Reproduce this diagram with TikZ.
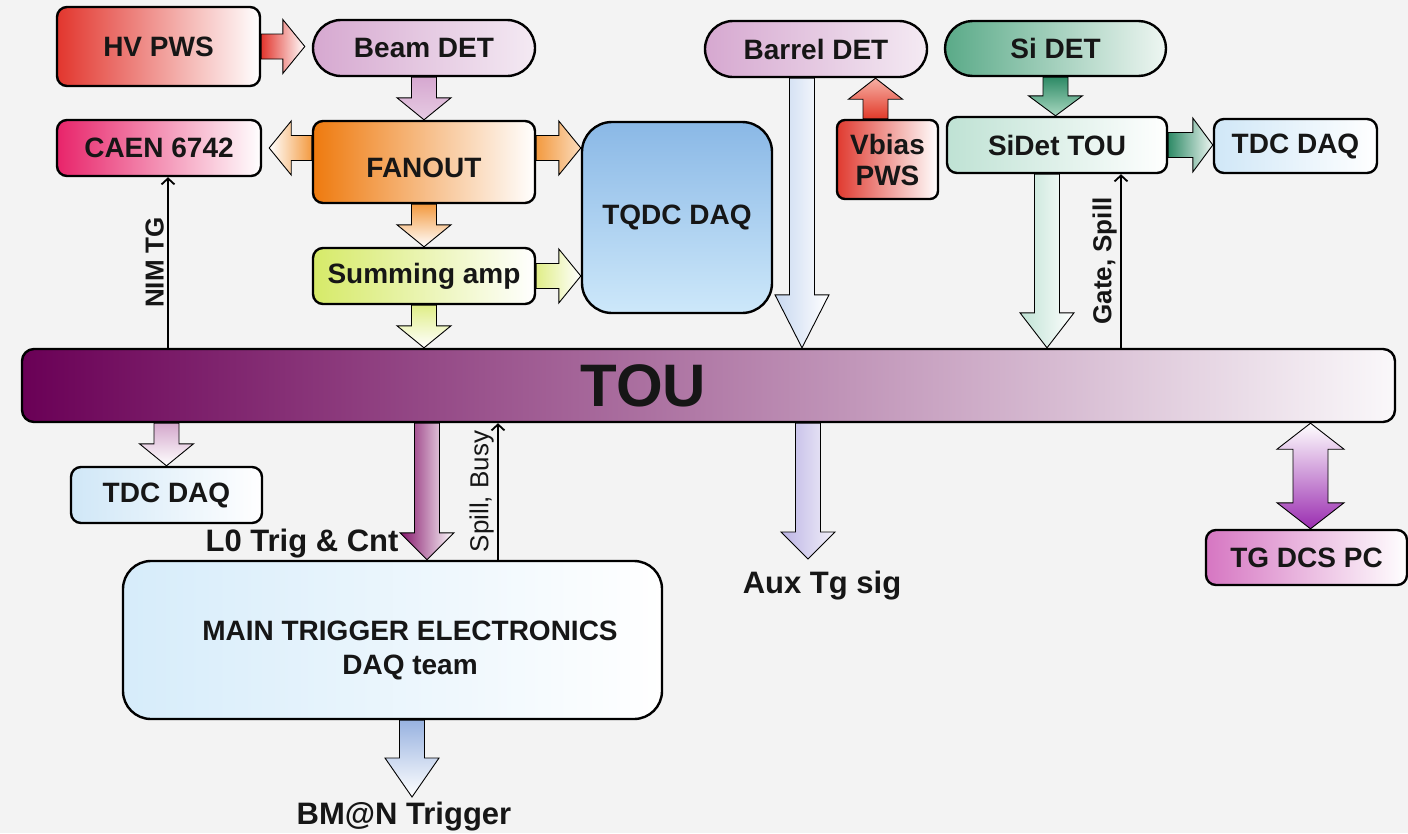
\documentclass[tikz,border=0pt]{standalone}
\usepackage{fontspec}
\setmainfont{Liberation Sans}
\usepackage{xcolor}
\usetikzlibrary{arrows.meta,positioning,calc,shapes.misc}

\definecolor{bggray}{HTML}{F3F3F3}
\definecolor{txtblack}{HTML}{161616}
\definecolor{hvred}{HTML}{E2362E}
\definecolor{detpink}{HTML}{D6A8D0}
\definecolor{detpinkr}{HTML}{F4EAF3}
\definecolor{caenred}{HTML}{E8246A}
\definecolor{fanorange}{HTML}{EE7A0E}
\definecolor{arrorange}{HTML}{F39A40}
\definecolor{sumgreen}{HTML}{D6EA68}
\definecolor{arrlime}{HTML}{E0EE88}
\definecolor{tqdctop}{HTML}{8AB8E6}
\definecolor{tqdcbot}{HTML}{CDE8FA}
\definecolor{arrsky}{HTML}{C8D8F0}
\definecolor{vbred}{HTML}{E03A30}
\definecolor{arrred}{HTML}{E23A2A}
\definecolor{arrredlt}{HTML}{F6B0A4}
\definecolor{sigreen}{HTML}{5AAA88}
\definecolor{sigreenr}{HTML}{EEF6F2}
\definecolor{darkgreen}{HTML}{2E8A66}
\definecolor{arrgreenlt}{HTML}{A8D8C0}
\definecolor{sidetgreen}{HTML}{BFE2D4}
\definecolor{tdcblue}{HTML}{D0E7F7}
\definecolor{tou1}{HTML}{6A0056}
\definecolor{tou2}{HTML}{C38FBC}
\definecolor{tou3}{HTML}{FAF8FA}
\definecolor{arrmauve}{HTML}{D4A8CC}
\definecolor{arrplum}{HTML}{84146A}
\definecolor{arrlav}{HTML}{BCB4E4}
\definecolor{arrlavr}{HTML}{F2F0FA}
\definecolor{mainblue}{HTML}{D6ECFA}
\definecolor{arrblue}{HTML}{98B2E0}
\definecolor{dcspurple}{HTML}{9A2CB0}
\definecolor{dcspink}{HTML}{D676C2}

\newcommand\boxfont{\fontsize{28}{31}\selectfont\bfseries}
\newcommand\tagfont{\fontsize{31}{34}\selectfont\bfseries}
\newcommand\sigfont{\fontsize{26}{28}\selectfont\bfseries}
\newcommand\spillfont{\fontsize{26}{28}\selectfont}

\begin{document}
\begin{tikzpicture}[
  x=1pt, y=-1pt,
  every node/.style={text=txtblack},
  box/.style={draw=black, line width=2.4pt, rounded corners=10pt, inner sep=0pt, font=\boxfont},
  pill/.style={draw=black, line width=2.4pt, rounded rectangle, inner sep=0pt, font=\boxfont},
  fat w/.store in=\fatW, fat h/.store in=\fatH, fat l/.store in=\fatL,
  fat w=12.5pt, fat h=27pt, fat l=22pt,
  fat/.style={draw=black, line width=0.9pt, line join=miter,
    to path={let \p1=(\tikztostart), \p2=(\tikztotarget),
      \n1={atan2(\y2-\y1,\x2-\x1)}, \n2={veclen(\x2-\x1,\y2-\y1)} in
      ($(\p1)+(\n1+90:\fatW)$)
      -- ($(\p1)+(\n1:{\n2*1pt-\fatL})+(\n1+90:\fatW)$)
      -- ($(\p1)+(\n1:{\n2*1pt-\fatL})+(\n1+90:\fatH)$)
      -- (\p2)
      -- ($(\p1)+(\n1:{\n2*1pt-\fatL})+(\n1-90:\fatH)$)
      -- ($(\p1)+(\n1:{\n2*1pt-\fatL})+(\n1-90:\fatW)$)
      -- ($(\p1)+(\n1-90:\fatW)$) -- cycle}},
  fatboth/.style={draw=black, line width=0.9pt, line join=miter,
    to path={let \p1=(\tikztostart), \p2=(\tikztotarget),
      \n1={atan2(\y2-\y1,\x2-\x1)}, \n2={veclen(\x2-\x1,\y2-\y1)} in
      (\p1)
      -- ($(\p1)+(\n1:\fatL)+(\n1+90:\fatH)$)
      -- ($(\p1)+(\n1:\fatL)+(\n1+90:\fatW)$)
      -- ($(\p1)+(\n1:{\n2*1pt-\fatL})+(\n1+90:\fatW)$)
      -- ($(\p1)+(\n1:{\n2*1pt-\fatL})+(\n1+90:\fatH)$)
      -- (\p2)
      -- ($(\p1)+(\n1:{\n2*1pt-\fatL})+(\n1-90:\fatH)$)
      -- ($(\p1)+(\n1:{\n2*1pt-\fatL})+(\n1-90:\fatW)$)
      -- ($(\p1)+(\n1:\fatL)+(\n1-90:\fatW)$)
      -- ($(\p1)+(\n1:\fatL)+(\n1-90:\fatH)$) -- cycle}},
  sig/.style={line width=1.8pt, -{Straight Barb[length=6pt,width=13pt]}}
]
\useasboundingbox (0,0) rectangle (1408,833);
\fill[bggray] (0,0) rectangle (1408,833);

\node (hv) [box, minimum width=203pt, minimum height=79pt, left color=hvred, middle color=hvred!40!white, right color=white] at (158.5,46.5) {HV PWS};
\node (beam) [pill, minimum width=222pt, minimum height=56pt, left color=detpink, right color=detpinkr] at (424,48) {Beam DET};
\node (caen) [box, minimum width=204pt, minimum height=56pt, left color=caenred, middle color=caenred!45!white, right color=white] at (159,148) {CAEN 6742};
\node (fanout) [box, text height=31pt, text depth=0pt, minimum width=222pt, minimum height=82pt, left color=fanorange, middle color=fanorange!50!white, right color=white] at (424,162) {FANOUT};
\node (sum) [box, minimum width=222pt, minimum height=56pt, left color=sumgreen, right color=white] at (424,276) {Summing amp};
\node (tqdc) [box, rounded corners=30pt, minimum width=190pt, minimum height=191pt, top color=tqdctop, bottom color=tqdcbot] at (677,217.5) {TQDC DAQ};
\node (barrel) [pill, minimum width=222pt, minimum height=56pt, left color=detpink, right color=detpinkr] at (816,49) {Barrel DET};
\node (vbias) [box, rounded corners=8pt, align=center, minimum width=101pt, minimum height=79pt, left color=vbred, right color=white] at (887.5,159.5) {Vbias\\PWS};
\node (si) [pill, minimum width=221pt, minimum height=55pt, left color=sigreen, right color=sigreenr] at (1055.5,48.5) {Si DET};
\node (sidet) [box, minimum width=220pt, minimum height=56pt, left color=sidetgreen, right color=white] at (1057,145) {SiDet TOU};
\node (tdcr) [box, minimum width=163pt, minimum height=54pt, left color=tdcblue, right color=white] at (1295.5,146) {TDC DAQ};
\node (tou) [box, rounded corners=12pt, minimum width=1373pt, minimum height=73pt, left color=tou1, middle color=tou2, right color=tou3] at (708.5,385.5) {};
\node (toutext) [font=\fontsize{60}{60}\selectfont\bfseries] at ([xshift=-65pt]tou.center) {TOU};
\node (tdcl) [box, minimum width=191pt, minimum height=56pt, left color=tdcblue, right color=white] at (166.5,495) {TDC DAQ};
\node (main) [box, rounded corners=28pt, minimum width=539pt, minimum height=158pt, left color=mainblue, right color=white] at (392.5,640) {};
\node (maintext) [font=\fontsize{28}{34}\selectfont\bfseries, align=center] at (410,650) {MAIN TRIGGER ELECTRONICS\\DAQ team};
\node (tgdcs) [box, minimum width=201pt, minimum height=55pt, left color=dcspink, right color=white] at (1306.5,557.5) {TG DCS PC};

\node (l0) [font=\tagfont, anchor=east] at (402,544) {L0 Trig \& Cnt};
\node (aux) [font=\tagfont] at (822,586) {Aux Tg sig};
\node (bman) [font=\tagfont] at (404,817) {BM@N Trigger};

\coordinate (fq) at ([yshift=14pt]fanout.east);
\coordinate (bt) at ([xshift=-14pt]barrel.south);
\coordinate (vt) at ([xshift=-12pt]vbias.north);
\coordinate (st) at ([xshift=-10pt]sidet.south);
\coordinate (gs) at ([xshift=64pt]sidet.south);
\coordinate (nt) at ([xshift=9pt]caen.south);
\coordinate (sb) at ([xshift=105.5pt]main.north);
\coordinate (lt) at ([xshift=34.5pt]main.north);
\coordinate (auxtip) at (808,559);
\coordinate (bmtip) at (412,797);

\draw[fat, left color=hvred, right color=white] (hv.east) to ([xshift=-7pt]beam.west |- hv.east);
\draw[fat, top color=detpink, bottom color=detpink!60!white] (beam.south) to (fanout.north);
\draw[fat, left color=white, right color=arrorange] (fanout.west |- caen.east) to ([xshift=7pt]caen.east);
\draw[fat, left color=arrorange, right color=arrorange!35!white] (fq) to (fq -| tqdc.west);
\draw[fat, top color=arrorange, bottom color=white] (fanout.south) to (sum.north);
\draw[fat, left color=arrlime, right color=white] (sum.east) to (sum.east -| tqdc.west);
\draw[fat, top color=arrlime, bottom color=white] (sum.south) to (sum.south |- tou.north);
\draw[fat, fat l=53pt, left color=arrsky, right color=white] (bt) to (bt |- tou.north);
\draw[fat, fat l=21pt, bottom color=arrred, top color=arrredlt] (vt) to (vt |- barrel.south);
\draw[fat, fat l=20pt, top color=darkgreen, bottom color=arrgreenlt] (si.south) to (si.south |- sidet.north);
\draw[fat, fat l=20pt, left color=darkgreen, right color=sigreenr] (sidet.east) to (sidet.east -| tdcr.west);
\draw[fat, fat l=35pt, left color=sidetgreen, right color=white] (st) to (st |- tou.north);
\draw[fat, top color=arrmauve, bottom color=white] (tdcl.north |- tou.south) to (tdcl.north);
\draw[fat, fat l=27pt, left color=arrplum, right color=white] (lt |- tou.south) to (lt);
\draw[fat, fat l=27pt, left color=arrlav, right color=arrlavr] (auxtip |- tou.south) to (auxtip);
\draw[fat, fat l=39pt, top color=arrblue, bottom color=white] (bmtip |- main.south) to (bmtip);
\draw[fatboth, fat w=17.5pt, fat h=33.5pt, fat l=26pt, top color=white, bottom color=dcspurple] ([xshift=4pt]tgdcs.north |- tou.south) to ([xshift=4pt]tgdcs.north);

\draw[sig] (nt |- tou.north) -- node (nimlbl) [above, rotate=90, font=\sigfont] {NIM TG} (nt);
\draw[sig] (gs |- tou.north) -- node (gatelbl) [above, rotate=90, font=\sigfont] {Gate, Spill} (gs);
\draw[sig] (sb) -- node (spilllbl) [above, rotate=90, font=\spillfont] {Spill, Busy} (sb |- tou.south);
\end{tikzpicture}
\end{document}
